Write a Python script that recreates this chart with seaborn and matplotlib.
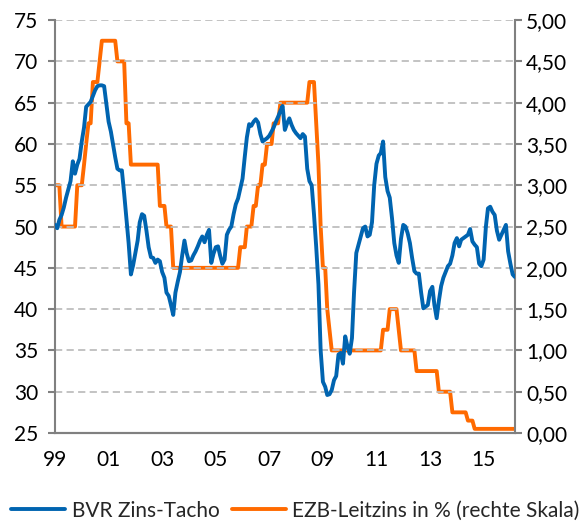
import pandas as pd
import matplotlib.pyplot as plt
import matplotlib.dates as mdates
from matplotlib.ticker import FuncFormatter, MultipleLocator
import seaborn as sns

# BVR Zins-Tacho, monthly values Jan 1999 - Mar 2016
bvr_1999 = [50.2, 49.8, 50.8, 51.4, 52.3, 53.5, 54.5, 55.5, 57.9, 56.4, 57.5, 58.2]
bvr_2000 = [60.3, 62.0, 64.5, 64.8, 65.1, 65.8, 66.5, 67.0, 67.1, 67.1, 67.0, 64.9]
bvr_2001 = [62.7, 61.5, 60.0, 58.4, 57.0, 56.8, 56.8, 54.0, 51.0, 48.0, 44.2, 45.3]
bvr_2002 = [46.8, 48.3, 50.5, 51.5, 51.3, 49.5, 47.5, 46.3, 46.2, 45.6, 46.0, 45.8]
bvr_2003 = [44.5, 43.8, 42.0, 41.6, 40.5, 39.3, 42.0, 43.3, 44.5, 46.5, 48.3, 46.8]
bvr_2004 = [45.8, 45.9, 46.5, 47.0, 47.6, 48.3, 48.8, 48.1, 49.0, 49.6, 45.6, 46.7]
bvr_2005 = [47.5, 47.6, 46.5, 45.5, 46.0, 49.0, 49.6, 50.0, 51.5, 52.7, 53.4, 54.6]
bvr_2006 = [55.8, 58.5, 60.8, 62.4, 62.2, 62.7, 63.0, 62.6, 61.2, 60.3, 60.5, 60.7]
bvr_2007 = [61.0, 61.5, 62.0, 62.7, 63.3, 64.0, 64.6, 61.7, 62.5, 63.1, 62.3, 61.7]
bvr_2008 = [61.3, 61.0, 60.7, 61.2, 60.9, 57.0, 55.5, 55.0, 51.5, 47.6, 43.0, 35.0]
bvr_2009 = [31.2, 30.6, 29.6, 29.7, 30.2, 31.4, 31.9, 34.5, 34.7, 33.4, 36.7, 35.5]
bvr_2010 = [34.6, 36.5, 42.0, 46.8, 47.8, 48.8, 49.8, 50.0, 48.8, 49.0, 50.5, 55.0]
bvr_2011 = [57.6, 58.6, 58.9, 60.3, 56.0, 54.3, 53.5, 51.0, 48.0, 46.5, 45.6, 48.5]
bvr_2012 = [50.2, 50.0, 49.2, 48.0, 46.2, 44.6, 44.3, 44.3, 42.0, 40.1, 40.3, 40.5]
bvr_2013 = [42.2, 42.7, 40.5, 38.9, 41.0, 42.8, 43.8, 44.5, 45.2, 45.5, 46.5, 48.0]
bvr_2014 = [48.6, 47.6, 48.4, 48.6, 48.8, 49.0, 49.7, 48.2, 47.8, 47.5, 45.5, 45.2]
bvr_2015 = [46.0, 50.0, 52.2, 52.4, 51.8, 51.4, 49.5, 48.4, 49.0, 49.6, 50.2, 47.0]
bvr_2016 = [45.5, 44.2, 43.9]

bvr = (bvr_1999 + bvr_2000 + bvr_2001 + bvr_2002 + bvr_2003 + bvr_2004 + bvr_2005
       + bvr_2006 + bvr_2007 + bvr_2008 + bvr_2009 + bvr_2010 + bvr_2011 + bvr_2012
       + bvr_2013 + bvr_2014 + bvr_2015 + bvr_2016)

# ECB main refinancing rate: months of change and new rate
ecb_change = ['1999-01', '1999-04', '1999-11', '2000-02', '2000-03', '2000-04', '2000-06',
              '2000-09', '2000-10', '2001-05', '2001-09', '2001-11', '2002-12',
              '2003-03', '2003-06', '2005-12', '2006-03', '2006-06', '2006-08', '2006-10',
              '2006-12', '2007-03', '2007-06', '2008-07', '2008-10', '2008-11', '2008-12',
              '2009-01', '2009-03', '2009-04', '2009-05', '2011-04', '2011-07', '2011-11',
              '2011-12', '2012-07', '2013-05', '2013-11', '2014-06', '2014-09']
ecb_rate = [3.00, 2.50, 3.00, 3.25, 3.50, 3.75, 4.25, 4.50, 4.75, 4.50, 3.75, 3.25, 2.75,
            2.50, 2.00, 2.25, 2.50, 2.75, 3.00, 3.25, 3.50, 3.75, 4.00, 4.25, 3.75, 3.25, 2.50,
            2.00, 1.50, 1.25, 1.00, 1.25, 1.50, 1.25, 1.00, 0.75, 0.50, 0.25, 0.15, 0.05]

months = pd.date_range('1999-01-01', periods=len(bvr), freq='MS')
df = pd.DataFrame({'Datum': months, 'BVR': bvr})
ecb = pd.Series(ecb_rate, index=pd.to_datetime(ecb_change)).reindex(months).ffill()
df['EZB'] = ecb.values

blue = '#0064B0'
orange = '#FF6A00'
grey = '#808080'

sns.set_theme(style='white')
plt.rcParams['font.family'] = ['Lato', 'DejaVu Sans']

fig = plt.figure(figsize=(5.85, 5.22), dpi=100)
ax = fig.add_axes([0.094, 0.1705, 0.786, 0.791])
ax2 = ax.twinx()

sns.lineplot(x='Datum', y='BVR', data=df, ax=ax, color=blue, linewidth=2.8,
             label='BVR Zins-Tacho', legend=False, zorder=3)
sns.lineplot(x='Datum', y='EZB', data=df, ax=ax2, color=orange, linewidth=2.8,
             label='EZB-Leitzins in % (rechte Skala)', legend=False)

ax.set_zorder(ax2.get_zorder() + 1)
ax.patch.set_visible(False)

ax.set_ylim(25, 75)
ax2.set_ylim(0, 5)
ax.set_xlim(months[0], months[-1])
ax.yaxis.set_major_locator(MultipleLocator(5))
ax2.yaxis.set_major_locator(MultipleLocator(0.5))
ax2.yaxis.set_major_formatter(FuncFormatter(lambda v, p: f'{v:.2f}'.replace('.', ',')))

ax.xaxis.set_major_locator(mdates.YearLocator(1))
ax.xaxis.set_major_formatter(FuncFormatter(
    lambda v, p: mdates.num2date(v).strftime('%y') if mdates.num2date(v).year % 2 == 1 else ''))

ax.grid(axis='y', color='#BEBEBE', linestyle=(0, (4, 2.4)), linewidth=1.3)
ax.set_xlabel('')
ax.set_ylabel('')
ax2.set_ylabel('')

for a in (ax, ax2):
    a.spines['top'].set_visible(False)
    for s in ('left', 'right', 'bottom'):
        a.spines[s].set_color(grey)
        a.spines[s].set_linewidth(1.5)
    a.tick_params(colors=grey, length=5, width=1.5, labelsize=15, labelcolor='black',
                  direction='out')
ax.tick_params(axis='y', pad=7)
ax.tick_params(axis='x', pad=7)
ax2.tick_params(axis='y', pad=3)
ax2.spines['left'].set_visible(False)
ax.spines['right'].set_visible(False)

h1, l1 = ax.get_legend_handles_labels()
h2, l2 = ax2.get_legend_handles_labels()
fig.legend(h1 + h2, l1 + l2, loc='center', bbox_to_anchor=(0.505, 0.022), ncol=2,
           frameon=False, fontsize=15, handlelength=2.6, handletextpad=0.3,
           columnspacing=0.6, borderaxespad=0, borderpad=0)

fig.savefig('out.png', dpi=100)
